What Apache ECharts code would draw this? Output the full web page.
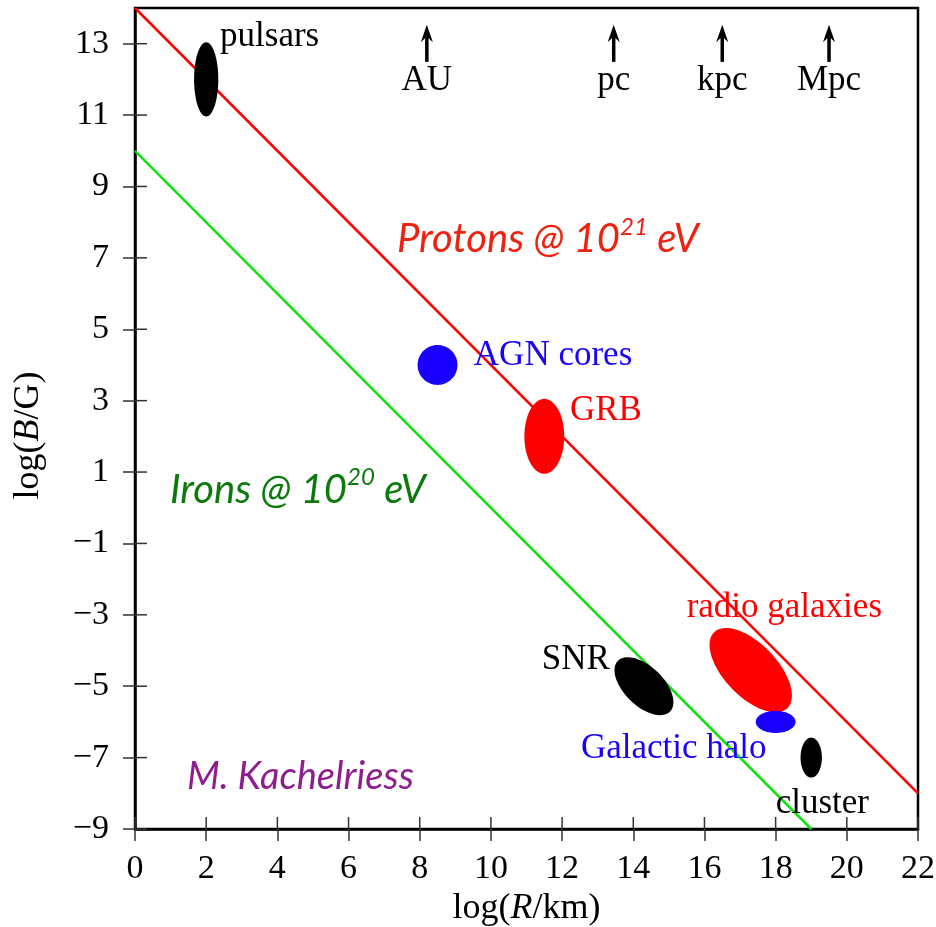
<!DOCTYPE html>
<html>
<head>
<meta charset="utf-8">
<script src="https://cdn.jsdelivr.net/npm/echarts@6/dist/echarts.min.js"></script>
<style>
  html, body { margin: 0; padding: 0; background: #fff; }
  #main { width: 936px; height: 927px; }
</style>
</head>
<body>
<div id="main"></div>
<script>
// sources: centre (log R, log B), half axes, tilt in degrees
var sourceNames = ['pulsars', 'AGN cores', 'GRB', 'radio galaxies', 'SNR', 'Galactic halo', 'cluster'];
var sourceX = [2, 8.5, 11.5, 17.3, 14.3, 18, 19];
var sourceY = [12, 4, 2, -4.55, -5.0, -6, -7];
var sourceRx = [0.34, 0.56, 0.56, 1.48, 1.02, 0.56, 0.3];
var sourceRy = [1.04, 0.56, 1.05, 0.74, 0.55, 0.31, 0.56];
var sourceTilt = [0, 0, 0, -46, -44, 0, 0];
var sourceColor = ['#000', '#1a00ff', '#ff0000', '#ff0000', '#000', '#1a00ff', '#000'];

// where each source name sits (left edge / centre)
var nameX = [2.39, 9.52, 12.22, 15.5, 13.34, 12.53, 18.0];
var nameY = [13.2, 4.26, 2.72, -2.81, -4.25, -6.75, -8.3];
var nameAlign = ['left', 'left', 'left', 'left', 'right', 'left', 'left'];

// Hillas lines
var protonLine = [[0, 14], [22, -8]];
var ironLine = [[0, 10], [19, -9]];

// distance scale arrows
var scaleNames = ['AU', 'pc', 'kpc', 'Mpc'];
var scaleX = [8.2, 13.45, 16.5, 19.5];

var xTicks = [0, 2, 4, 6, 8, 10, 12, 14, 16, 18, 20, 22];
var yTicks = [-9, -7, -5, -3, -1, 1, 3, 5, 7, 9, 11, 13];

var serif = '"Liberation Serif", "DejaVu Serif", serif';
var sans = 'Lato, "Open Sans", sans-serif';

function minus(v) {
    return v < 0 ? '\u2212' + Math.abs(v) : String(v);
}

var myChart = echarts.init(document.getElementById('main'));

var ellipseData = sourceNames.map(function (n, i) {
    return [sourceX[i], sourceY[i], sourceRx[i], sourceRy[i], sourceTilt[i], i];
});

var tickStyle = { color: '#333', width: 1.5 };

var option = {
    animation: false,
    grid: {
        left: 135, right: 18, top: 8, bottom: 98,
        outerBoundsMode: 'none',
        show: true, borderColor: '#000', borderWidth: 2.5, backgroundColor: 'transparent'
    },
    xAxis: {
        type: 'value', min: 0, max: 22, interval: 2,
        name: 'log({i|R}/km)', nameLocation: 'middle', nameGap: 58,
        nameTextStyle: {
            fontFamily: serif, fontSize: 36, color: '#000',
            rich: { i: { fontFamily: serif, fontSize: 36, fontStyle: 'italic', color: '#000' } }
        },
        axisLine: { show: true, onZero: false, lineStyle: { color: '#000', width: 2.5 } },
        axisTick: { show: true, length: 12, lineStyle: tickStyle },
        axisLabel: { fontFamily: serif, fontSize: 34, color: '#000', margin: 23 },
        splitLine: { show: false }
    },
    yAxis: {
        type: 'value', min: -9, max: 14,
        name: 'log({i|B}/G)', nameLocation: 'middle', nameGap: 88, nameRotate: 90,
        nameTextStyle: {
            fontFamily: serif, fontSize: 36, color: '#000', padding: [0, 34, 0, 0],
            rich: { i: { fontFamily: serif, fontSize: 36, fontStyle: 'italic', color: '#000' } }
        },
        axisLine: { show: true, onZero: false, lineStyle: { color: '#000', width: 2.5 } },
        axisTick: { show: true, length: 12, customValues: yTicks, lineStyle: tickStyle },
        axisLabel: { fontFamily: serif, fontSize: 34, color: '#000', margin: 26, customValues: yTicks, formatter: minus },
        splitLine: { show: false }
    },
    series: [
        {
            type: 'line', data: protonLine, symbol: 'none', silent: true,
            lineStyle: { color: '#ff0000', width: 2.5 }, z: 2
        },
        {
            type: 'line', data: ironLine, symbol: 'none', silent: true,
            lineStyle: { color: '#11e011', width: 2.5 }, z: 2
        },
        {
            // inward half of the x ticks (the axis draws the outward half)
            type: 'scatter', silent: true, clip: false, z: 10,
            data: xTicks.map(function (v) { return [v, -9]; }),
            symbol: 'rect', symbolSize: [1.5, 12], symbolOffset: [0, -6],
            itemStyle: { color: '#333', opacity: 1 }
        },
        {
            // inward half of the y ticks
            type: 'scatter', silent: true, clip: false, z: 10,
            data: yTicks.map(function (v) { return [0, v]; }),
            symbol: 'rect', symbolSize: [12, 1.5], symbolOffset: [6, 0],
            itemStyle: { color: '#333', opacity: 1 }
        },
        {
            // source regions
            type: 'custom', data: ellipseData, z: 3, silent: true,
            renderItem: function (params, api) {
                var cx = api.value(0), cy = api.value(1);
                var rx = api.value(2), ry = api.value(3);
                var a = api.value(4) * Math.PI / 180;
                var pts = [];
                for (var k = 0; k < 72; k++) {
                    var t = k / 72 * Math.PI * 2;
                    var dx = rx * Math.cos(t), dy = ry * Math.sin(t);
                    pts.push(api.coord([cx + dx * Math.cos(a) - dy * Math.sin(a),
                                        cy + dx * Math.sin(a) + dy * Math.cos(a)]));
                }
                return {
                    type: 'polygon',
                    shape: { points: pts },
                    style: { fill: sourceColor[api.value(5)], stroke: null }
                };
            }
        },
        {
            // source names
            type: 'custom', data: sourceNames.map(function (n, i) { return [nameX[i], nameY[i], i]; }),
            z: 4, silent: true,
            renderItem: function (params, api) {
                var i = api.value(2);
                var p = api.coord([api.value(0), api.value(1)]);
                return {
                    type: 'text', x: p[0], y: p[1],
                    style: {
                        text: sourceNames[i], fill: sourceColor[i],
                        font: '35px ' + serif, align: nameAlign[i], verticalAlign: 'middle'
                    }
                };
            }
        },
        {
            // distance scale arrows
            type: 'custom', data: scaleX.map(function (x, i) { return [x, i]; }),
            z: 4, silent: true,
            renderItem: function (params, api) {
                var x = api.value(0);
                var base = api.coord([x, 12.49]);
                var neck = api.coord([x, 13.2]);
                var tip = api.coord([x, 13.53]);
                var l = api.coord([x - 0.17, 13.04]);
                var r = api.coord([x + 0.17, 13.04]);
                var lab = api.coord([x, 11.97]);
                return {
                    type: 'group',
                    children: [
                        { type: 'line', shape: { x1: base[0], y1: base[1], x2: neck[0], y2: neck[1] },
                          style: { stroke: '#000', lineWidth: 3.5 } },
                        { type: 'polygon', shape: { points: [tip, r, neck, l] },
                          style: { fill: '#000' } },
                        { type: 'text', x: lab[0], y: lab[1],
                          style: { text: scaleNames[api.value(1)], fill: '#000', font: '35px ' + serif,
                                   align: 'center', verticalAlign: 'middle' } }
                    ]
                };
            }
        },
        {
            // annotations
            type: 'custom', data: [[7.36, 7.58, 0], [0.98, 0.56, 1], [1.46, -7.45, 2]],
            z: 4, silent: true,
            renderItem: function (params, api) {
                var p = api.coord([api.value(0), api.value(1)]);
                var k = api.value(2);
                var colors = ['#ee2211', '#0b7a0b', '#8e1e8e'];
                var texts = ['{b|Protons @ 10}{s|21}{b| eV}', '{b|Irons @ 10}{s|20}{b| eV}', '{b|M. Kachelriess}'];
                var sizes = [40, 40, 38];
                var c = colors[k];
                return {
                    type: 'text', x: p[0], y: p[1],
                    style: {
                        text: texts[k], align: 'left', verticalAlign: 'middle', fill: c,
                        rich: {
                            b: { fill: c, fontFamily: sans, fontStyle: 'italic', fontSize: sizes[k], verticalAlign: 'bottom', lineHeight: 44 },
                            s: { fill: c, fontFamily: sans, fontStyle: 'italic', fontSize: 24, verticalAlign: 'top', lineHeight: 44 }
                        }
                    }
                };
            }
        }
    ]
};

myChart.setOption(option);
</script>
</body>
</html>
